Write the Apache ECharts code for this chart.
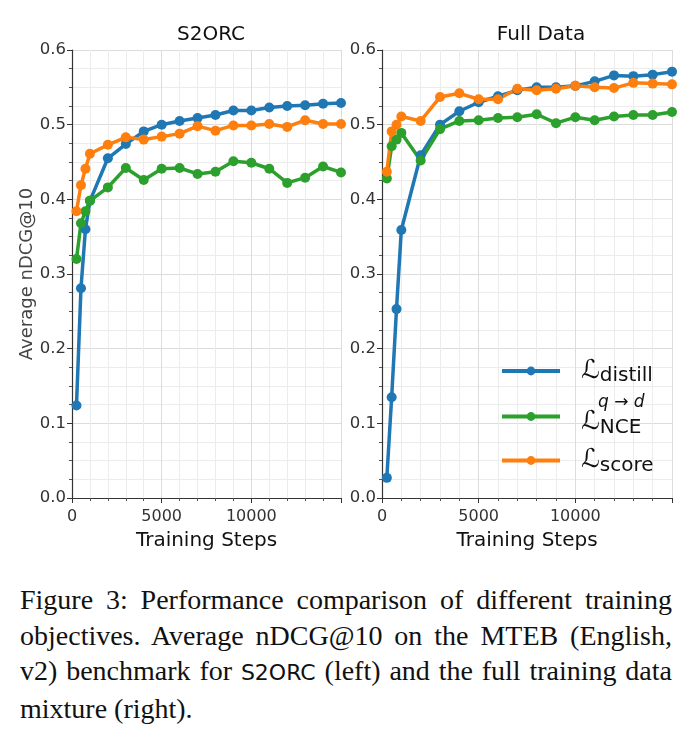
<!DOCTYPE html>
<html>
<head>
<meta charset="utf-8">
<script src="https://cdn.jsdelivr.net/npm/echarts@6/dist/echarts.min.js"></script>
<style>
  body { margin: 0; background: #fff; }
  #main { width: 695px; height: 570px; }
  .caption {
    position: absolute; left: 20px; top: 582px; width: 652px;
    font-family: "Liberation Serif", serif; font-size: 28px; line-height: 35.5px; color: #111;
  }
  .caption div { text-align: justify; text-align-last: justify; white-space: nowrap; }
  .caption div.last { text-align-last: left; }
  .sf { font-family: "DejaVu Sans", sans-serif; font-size: 22px; }
</style>
</head>
<body>
<div id="main"></div>
<div class="caption">
  <div>Figure 3: Performance comparison of different training</div>
  <div>objectives. Average nDCG@10 on the MTEB (English,</div>
  <div>v2) benchmark for <span class="sf">S2ORC</span> (left) and the full training data</div>
  <div class="last">mixture (right).</div>
</div>
<script>
// training steps where each checkpoint was evaluated
const steps = [250, 500, 750, 1000, 2000, 3000, 4000, 5000, 6000, 7000, 8000, 9000, 10000, 11000, 12000, 13000, 14000, 15000];

// S2ORC (left)
const s2orcDistill = [0.124, 0.281, 0.360, 0.398, 0.455, 0.474, 0.491, 0.500, 0.505, 0.509, 0.513, 0.519, 0.519, 0.523, 0.525, 0.526, 0.528, 0.529];
const s2orcNce     = [0.320, 0.368, 0.384, 0.398, 0.416, 0.442, 0.426, 0.441, 0.442, 0.434, 0.437, 0.451, 0.449, 0.441, 0.422, 0.429, 0.444, 0.436];
const s2orcScore   = [0.384, 0.419, 0.441, 0.461, 0.473, 0.483, 0.480, 0.484, 0.488, 0.498, 0.492, 0.499, 0.499, 0.501, 0.497, 0.506, 0.501, 0.501];

// Full Data (right)
const fullDistill = [0.027, 0.135, 0.253, 0.359, 0.459, 0.500, 0.518, 0.530, 0.538, 0.546, 0.550, 0.550, 0.552, 0.558, 0.566, 0.565, 0.567, 0.571];
const fullNce     = [0.428, 0.471, 0.480, 0.489, 0.452, 0.494, 0.505, 0.506, 0.509, 0.510, 0.514, 0.502, 0.510, 0.506, 0.511, 0.513, 0.513, 0.517];
const fullScore   = [0.437, 0.491, 0.500, 0.511, 0.505, 0.537, 0.542, 0.534, 0.534, 0.548, 0.546, 0.548, 0.552, 0.550, 0.549, 0.556, 0.555, 0.554];

const panelTitles = ['S2ORC', 'Full Data'];
const yTicks = [0, 0.1, 0.2, 0.3, 0.4, 0.5, 0.6];
const xTicks = [0, 5000, 10000];

const colors = { distill: '#1f77b4', NCE: '#2ca02c', score: '#ff7f0e' };
const font = 'DejaVu Sans';

function pairs(ys) { return steps.map((s, i) => [s, ys[i]]); }

function xAxis(gi) {
  return {
    type: 'value', gridIndex: gi, min: 0, max: 15000, interval: 5000,
    name: 'Training Steps', nameLocation: 'middle', nameGap: 33,
    nameTextStyle: { fontFamily: font, fontSize: 20, color: '#111' },
    axisLine: { show: true, lineStyle: { color: '#333', width: 1.2 } },
    axisTick: { show: true, length: 5, lineStyle: { color: '#333' } },
    minorTick: { show: true, splitNumber: 5, length: 3, lineStyle: { color: '#555' } },
    axisLabel: { fontFamily: font, fontSize: 16, color: '#333', margin: 11, showMaxLabel: false,
      formatter: v => xTicks.includes(v) ? String(v) : '' },
    splitLine: { show: true, lineStyle: { color: '#dcdcdc', width: 1 } },
    minorSplitLine: { show: true, lineStyle: { color: '#ececec', width: 1 } }
  };
}

function yAxis(gi, withName) {
  return {
    type: 'value', gridIndex: gi, min: 0, max: 0.6, interval: 0.1,
    name: withName ? 'Average nDCG@10' : '', nameLocation: 'middle', nameGap: 36,
    nameTextStyle: { fontFamily: font, fontSize: 18, color: '#444' },
    axisLine: { show: true, lineStyle: { color: '#333', width: 1.2 } },
    axisTick: { show: true, length: 5, lineStyle: { color: '#333' } },
    minorTick: { show: true, splitNumber: 4, length: 3, lineStyle: { color: '#555' } },
    axisLabel: { fontFamily: font, fontSize: 16.5, color: '#333', margin: 6,
      formatter: v => yTicks.some(t => Math.abs(t - v) < 1e-9) ? v.toFixed(1) : '' },
    splitLine: { show: true, lineStyle: { color: '#dcdcdc', width: 1 } },
    minorSplitLine: { show: true, lineStyle: { color: '#ececec', width: 1 } }
  };
}

function line(name, gi, ys) {
  return {
    name: name, type: 'line', xAxisIndex: gi, yAxisIndex: gi,
    data: pairs(ys), symbol: 'circle', symbolSize: 10,
    lineStyle: { width: 3.5, color: colors[name] },
    itemStyle: { color: colors[name] },
    emphasis: { disabled: true }, animation: false
  };
}

const labels = {
  distill: '{g|}{L|ℒ}{sub|distill}',
  NCE: '{g2|}{sup|q → d}\n{g|}{L|ℒ}{sub|NCE}',
  score: '{g|}{L|ℒ}{sub|score}'
};

const chart = echarts.init(document.getElementById('main'));
chart.setOption({
  animation: false,
  title: [
    { text: panelTitles[0], left: 206, top: 20, textAlign: 'center',
      textStyle: { fontFamily: font, fontSize: 20, fontWeight: 'normal', color: '#111' } },
    { text: panelTitles[1], left: 536, top: 20, textAlign: 'center',
      textStyle: { fontFamily: font, fontSize: 20, fontWeight: 'normal', color: '#111' } }
  ],
  grid: [
    { left: 72, top: 50, width: 269, height: 448 },
    { left: 382, top: 50, width: 290, height: 448 }
  ],
  xAxis: [xAxis(0), xAxis(1)],
  yAxis: [yAxis(0, true), yAxis(1, false)],
  legend: {
    data: ['distill', 'NCE', 'score'], orient: 'vertical', left: 495, top: 351,
    itemWidth: 58, itemHeight: 11, itemGap: 8,
    lineStyle: { width: 4 },
    formatter: n => labels[n],
    textStyle: {
      color: '#111',
      rich: {
        g: { width: 16 },
        g2: { width: 33, lineHeight: 12 },
        L: { fontFamily: 'DejaVu Sans', fontSize: 26, color: '#111', lineHeight: 28 },
        sub: { fontFamily: font, fontSize: 20, color: '#111', padding: [10, 0, 0, 0], lineHeight: 28 },
        sup: { fontFamily: font, fontSize: 17, fontStyle: 'italic', color: '#111', lineHeight: 12 }
      }
    }
  },
  series: [
    line('distill', 0, s2orcDistill),
    line('NCE', 0, s2orcNce),
    line('score', 0, s2orcScore),
    line('distill', 1, fullDistill),
    line('NCE', 1, fullNce),
    line('score', 1, fullScore)
  ]
});
</script>
</body>
</html>
